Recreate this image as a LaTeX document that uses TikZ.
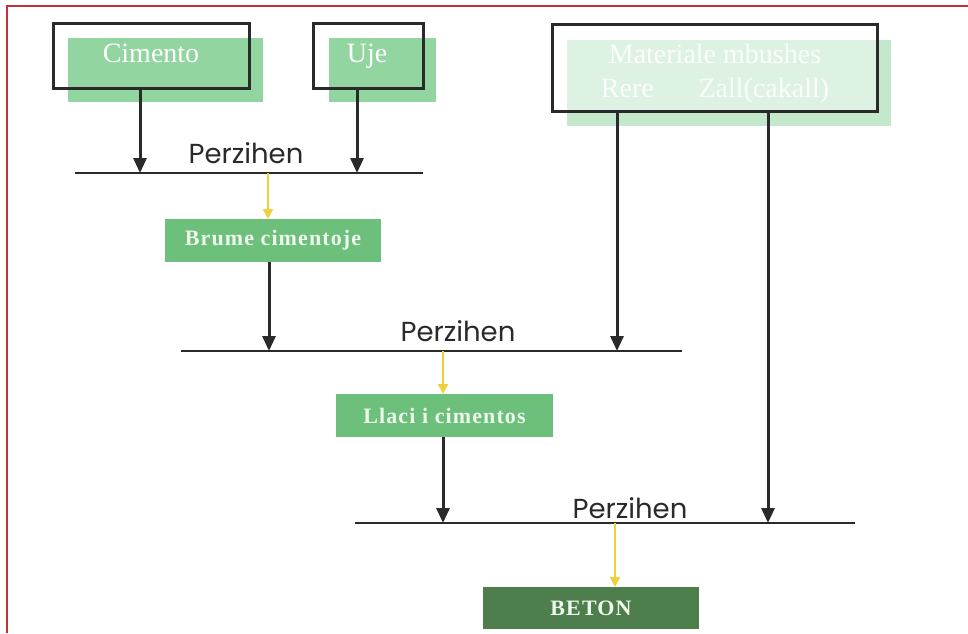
\documentclass[tikz,border=0pt]{standalone}
\usepackage{fontspec}
\setmainfont{Liberation Serif}
\newfontfamily\perzfont{Poppins}
\usetikzlibrary{arrows.meta}
\definecolor{topgreen}{HTML}{92D5A0}
\definecolor{palegreen}{HTML}{C4E8CC}
\definecolor{midgreen}{HTML}{6DC07C}
\definecolor{darkgreen}{HTML}{4E7E4C}
\definecolor{boxtext}{HTML}{EEF7EC}
\definecolor{linegray}{HTML}{2A2A2A}
\definecolor{arrowyellow}{HTML}{F0CF3C}
\definecolor{borderred}{HTML}{C42F3A}
\tikzset{
  greenbox/.style={draw=none, fill=#1, inner sep=0pt, outer sep=0pt},
  outlinebox/.style={draw=linegray, line width=3pt, inner sep=0pt, outer sep=0pt},
  boxlabel/.style={text=boxtext, font=\fontsize{22}{22}\selectfont\bfseries\addfontfeature{LetterSpace=5}},
  toplabel/.style={text=white, font=\fontsize{28}{34}\selectfont, anchor=base},
  mixlabel/.style={text=linegray, font=\perzfont\fontsize{27.5}{27.5}\selectfont, anchor=base},
  bar/.style={draw=linegray, line width=2.6pt},
  blackarrow/.style={draw=linegray, line width=3pt, -{Triangle[width=13pt,length=15pt]}},
  yellowarrow/.style={draw=arrowyellow, line width=2pt, -{Triangle[width=10pt,length=10pt]}}
}
\begin{document}
\begin{tikzpicture}[x=1pt,y=-1pt]
\useasboundingbox (0,0) rectangle (968,633);
\fill[white] (0,0) rectangle (968,633);
% red frame
\draw[borderred, line width=2.5pt] (7,633) -- (7,6) -- (968,6);

% top source boxes
\node[greenbox=topgreen, minimum width=195pt, minimum height=64pt] (cimg) at (165.5,70) {};
\node[outlinebox, minimum width=196pt, minimum height=65pt] (cim) at (151,55.5) {};
\node[toplabel] (cimt) at (151,62) {Cimento};

\node[greenbox=topgreen, minimum width=107pt, minimum height=64pt] (ujeg) at (382.5,70) {};
\node[outlinebox, minimum width=110pt, minimum height=65pt] (uje) at (368,55.5) {};
\node[toplabel] (ujet) at (367,62) {Uje};

\node[greenbox=palegreen, minimum width=324pt, minimum height=86pt] (matg) at (729,83) {};
\node[outlinebox, fill=white, fill opacity=0.45, minimum width=325pt, minimum height=87pt] (mat) at (714.5,67.5) {};
\node[toplabel, text=white!92!palegreen] (matt1) at (715,63) {Materiale mbushes};
\node[toplabel, text=white!92!palegreen] (matt2) at (715,97) {Rere\hspace{1.6em}Zall(cakall)};

% process boxes
\node[greenbox=midgreen, minimum width=216pt, minimum height=43pt, boxlabel] (brume) at (273,240.5) {Brume cimentoje};
\node[greenbox=midgreen, minimum width=217pt, minimum height=43pt, boxlabel] (llaci) at (444.5,415.5) {Llaci i cimentos};
\node[greenbox=darkgreen, minimum width=216pt, minimum height=42pt, boxlabel] (beton) at (591,608) {BETON};

% bars
\coordinate (b1w) at (75,173);  \coordinate (b1e) at (423,173);
\coordinate (b2w) at (181,351); \coordinate (b2e) at (682,351);
\coordinate (b3w) at (355,523); \coordinate (b3e) at (855,523);
\draw[bar] (b1w) -- (b1e);
\draw[bar] (b2w) -- (b2e);
\draw[bar] (b3w) -- (b3e);
\node[mixlabel] (p1) at (246,163) {Perzihen};
\node[mixlabel] (p2) at (458,341) {Perzihen};
\node[mixlabel] (p3) at (630,518) {Perzihen};

% arrow start points on box edges
\coordinate (cimA) at (140,88);
\coordinate (ujeA) at (357,88);
\coordinate (matA) at (617,111);
\coordinate (matB) at (768,111);
\coordinate (brumeA) at (269,262);
\coordinate (llaciA) at (443,437);

\draw[blackarrow] (cimA) -- (cimA |- b1w);
\draw[blackarrow] (ujeA) -- (ujeA |- b1w);
\draw[blackarrow] (brumeA) -- (brumeA |- b2w);
\draw[blackarrow] (matA) -- (matA |- b2w);
\draw[blackarrow] (llaciA) -- (llaciA |- b3w);
\draw[blackarrow] (matB) -- (matB |- b3w);

% yellow arrows
\coordinate (y1) at (268,173);
\coordinate (y2) at (443,351);
\coordinate (y3) at (615,523);
\draw[yellowarrow] (y1) -- (y1 |- brume.north);
\draw[yellowarrow] (y2) -- (y2 |- llaci.north);
\draw[yellowarrow] (y3) -- (y3 |- beton.north);
\end{tikzpicture}
\end{document}
